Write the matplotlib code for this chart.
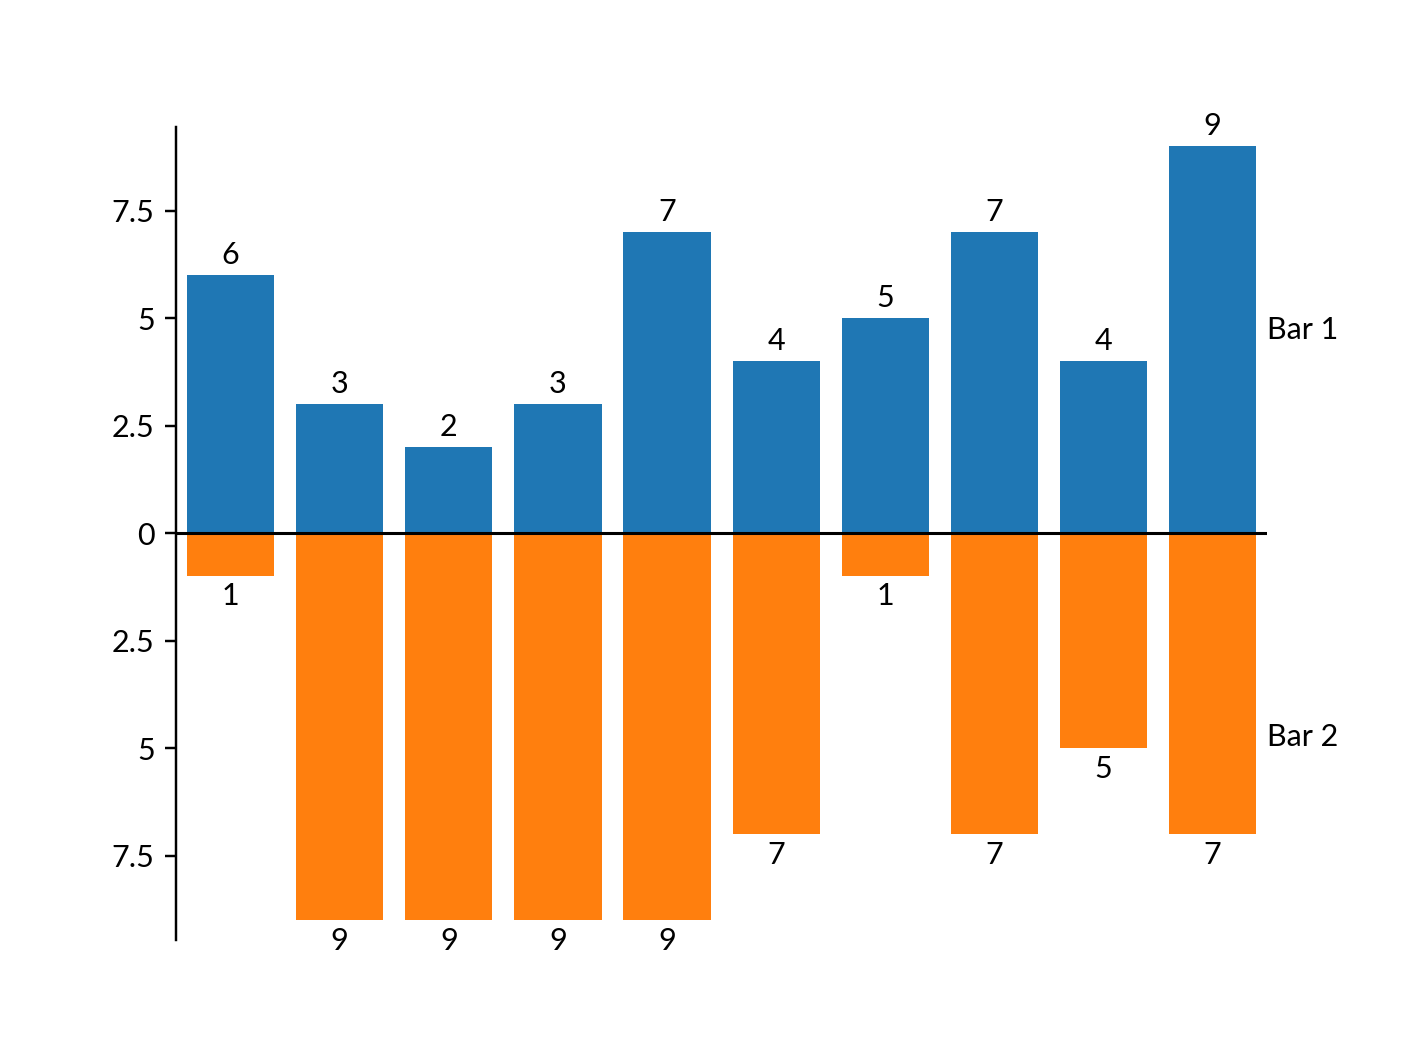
import matplotlib as mpl
import matplotlib.pyplot as plt
from matplotlib.ticker import FuncFormatter

mpl.rcParams['font.family'] = ['Lato', 'DejaVu Sans']
mpl.rcParams['font.size'] = 10

# values
positions = list(range(10))
bar1 = [6, 3, 2, 3, 7, 4, 5, 7, 4, 9]
bar2 = [1, 9, 9, 9, 9, 7, 1, 7, 5, 7]
labels = ['Bar 1', 'Bar 2']

fig, ax = plt.subplots(figsize=(6.4, 4.8), dpi=220)

b1 = ax.bar(positions, bar1, width=0.8, color='#1f77b4')
b2 = ax.bar(positions, [-v for v in bar2], width=0.8, color='#ff7f0e')

ax.bar_label(b1, labels=[str(v) for v in bar1], padding=2)
ax.bar_label(b2, labels=[str(v) for v in bar2], padding=2)

ax.axhline(0, color='black', linewidth=1)

ax.set_xlim(-0.5, 9.5)
ax.set_ylim(-9.45, 9.45)
ax.set_yticks([-7.5, -5, -2.5, 0, 2.5, 5, 7.5])
ax.yaxis.set_major_formatter(FuncFormatter(lambda v, p: '%g' % abs(v)))
ax.set_xticks([])

for s in ['top', 'right', 'bottom']:
    ax.spines[s].set_visible(False)

ax.text(1.0, 0.75, labels[0], transform=ax.transAxes, ha='left', va='center')
ax.text(1.0, 0.25, labels[1], transform=ax.transAxes, ha='left', va='center')

plt.savefig('out.png', dpi=220)
